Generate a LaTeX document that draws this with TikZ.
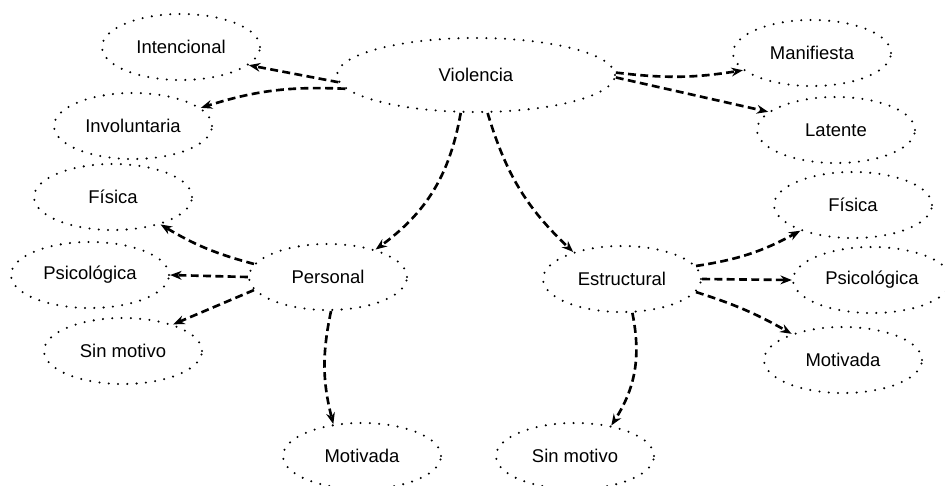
\documentclass[tikz,border=0pt]{standalone}
\usepackage{fontspec}
\setmainfont{Liberation Sans}
\usetikzlibrary{shapes.geometric, arrows.meta}

\begin{document}
\begin{tikzpicture}[x=0.02cm, y=-0.02cm,
  globo/.style={ellipse, draw, line width=1.3pt, dash pattern=on 0pt off 5.3pt, line cap=round, minimum width=3.16cm, minimum height=1.32cm, inner sep=0pt, font=\fontsize{10.5}{12}\selectfont},
  flecha/.style={-{Stealth[length=6.5pt, width=5pt]}, line width=1.5pt, dash pattern=on 4.5pt off 2.5pt}]
\useasboundingbox (0,0) rectangle (945,485);
\node[globo, minimum width=5.56cm, minimum height=1.48cm] (viol) at (476,75) {Violencia};
\node[globo] (intenc) at (181,47) {Intencional};
\node[globo] (invol) at (133,126) {Involuntaria};
\node[globo] (manif) at (812,53) {Manifiesta};
\node[globo] (laten) at (836,130) {Latente};
\node[globo] (pers) at (328,277) {Personal};
\node[globo] (estr) at (622,279) {Estructural};
\node[globo] (fisP) at (113,197) {Física};
\node[globo] (psiP) at (90,275) {Psicológica};
\node[globo] (sinP) at (123,351) {Sin motivo};
\node[globo] (motP) at (362,456) {Motivada};
\node[globo] (fisE) at (853,205) {Física};
\node[globo] (psiE) at (872,280) {Psicológica};
\node[globo] (motE) at (843,360) {Motivada};
\node[globo] (sinE) at (575,456) {Sin motivo};
\draw[flecha] (viol.183) -- (intenc.-15);
\draw[flecha] (viol.186) to[bend right=10] (invol.15);
\draw[flecha] (viol.248) to[bend left=22] (pers.30);
\draw[flecha] (viol.-73) to[bend right=15] (estr.151);
\draw[flecha] (viol.1) to[bend right=8] (manif.194);
\draw[flecha] (viol.-1) -- (laten.165);
\draw[flecha] (pers.170) to[bend left=8] (fisP.-30);
\draw[flecha] (pers.180) -- (psiP.0);
\draw[flecha] (pers.190) -- (sinP.28);
\draw[flecha] (pers.-85) to[bend right=13] (motP.132);
\draw[flecha] (estr.10) to[bend right=10] (fisE.206);
\draw[flecha] (estr.0) -- (psiE.180);
\draw[flecha] (estr.-10) to[bend left=6] (motE.153);
\draw[flecha] (estr.-73) to[bend left=22] (sinE.40);
\end{tikzpicture}
\end{document}
